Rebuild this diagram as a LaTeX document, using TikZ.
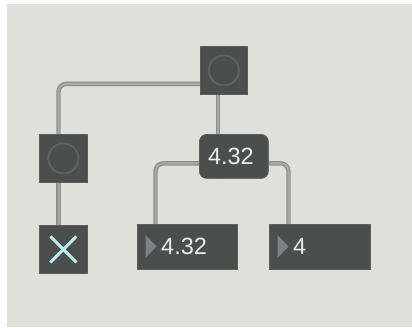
\documentclass[tikz,border=0pt]{standalone}
\usepackage{fontspec}
\setmainfont{Liberation Sans}
\begin{document}
\begin{tikzpicture}[x=1pt,y=-1pt,
  box/.style={draw=boxedge,fill=boxfill,line width=0.8pt,inner sep=0pt,anchor=north west},
  cordout/.style={draw=cordedge,line width=4.4pt,rounded corners=9pt},
  cordin/.style={draw=cordmid,line width=2pt,rounded corners=9pt},
  lbl/.style={text=txt,font=\fontsize{23.5}{23.5}\selectfont,inner sep=0pt}
]
\definecolor{bg}{HTML}{DFE0DA}
\definecolor{boxfill}{HTML}{4A4E4D}
\definecolor{boxedge}{HTML}{5A5E5D}
\definecolor{ring}{HTML}{5E6265}
\definecolor{xcol}{HTML}{BDEAEA}
\definecolor{txt}{HTML}{ECECEC}
\definecolor{tri}{HTML}{7E8184}
\definecolor{cordedge}{HTML}{8E8E8E}
\definecolor{cordmid}{HTML}{A9A9A9}
\useasboundingbox (0,0) rectangle (412,327);
\fill[white] (0,0) rectangle (412,327);
\fill[bg] (7,4) rectangle (412,327);
% nodes
\node[box,minimum width=47pt,minimum height=48pt] (top) at (200,46) {};
\node[box,minimum width=48pt,minimum height=48pt] (btn) at (39,134) {};
\node[box,minimum width=48pt,minimum height=48pt] (tog) at (39,225) {};
\node[box,rounded corners=7pt,minimum width=68pt,minimum height=43pt] (num) at (199.5,134.5) {};
\node[box,minimum width=100pt,minimum height=44pt] (flt) at (137,224.5) {};
\node[box,minimum width=101pt,minimum height=44pt] (int) at (269,224.5) {};
% outlets / inlets
\coordinate (o1) at ([xshift=18pt]top.south west);
\coordinate (i1) at ([xshift=19.5pt]btn.north west);
\coordinate (o2) at ([xshift=19.5pt]btn.south west);
\coordinate (i2) at ([xshift=19.5pt]tog.north west);
\coordinate (i3) at ([xshift=18.5pt]num.north west);
\coordinate (o3) at ([xshift=18.5pt]num.south west);
\coordinate (i4) at ([xshift=18.5pt]flt.north west);
\coordinate (i5) at ([xshift=19.5pt]int.north west);
% cords
\foreach \s in {cordout,cordin}{
  \path[\s] (o1) -- (i3);
  \path[\s,rounded corners=8pt] (o1) -- ([yshift=11pt]o1) -- ([yshift=11pt]o1 -| i1) -- (i1);
  \path[\s] (o2) -- (i2);
  \path[\s,rounded corners=8pt] (o3) -- ([yshift=15pt]o3) -- ([yshift=15pt]o3 -| i4) -- (i4);
  \path[\s,rounded corners=8pt] (o3) -- ([yshift=15pt]o3) -- ([yshift=15pt]o3 -| i5) -- (i5);
}
% redraw boxes over cords
\foreach \n in {top,btn,tog,flt,int}{
  \draw[draw=boxedge,fill=boxfill,line width=0.8pt] (\n.north west) rectangle (\n.south east);
}
\draw[draw=boxedge,fill=boxfill,line width=0.8pt,rounded corners=7pt] (num.north west) rectangle (num.south east);
% contents
\draw[ring,line width=2pt] (top.center) circle (15pt);
\draw[ring,line width=2pt] (btn.center) circle (15pt);
\draw[xcol,line width=3pt] ([shift={(-13,-13)}]tog.center) -- ([shift={(13,13)}]tog.center)
  ([shift={(-13,13)}]tog.center) -- ([shift={(13,-13)}]tog.center);
\node[lbl] (numtxt) at ([xshift=-3pt]num.center) {4.32};
\fill[tri] ([shift={(8.5,10.5)}]flt.north west) -- ++(0,23) -- ++(11,-11.5) -- cycle;
\node[lbl,anchor=west] (flttxt) at ([xshift=24pt]flt.west) {4.32};
\fill[tri] ([shift={(8.5,10.5)}]int.north west) -- ++(0,23) -- ++(11,-11.5) -- cycle;
\node[lbl,anchor=west] (inttxt) at ([xshift=24pt]int.west) {4};
\end{tikzpicture}
\end{document}
